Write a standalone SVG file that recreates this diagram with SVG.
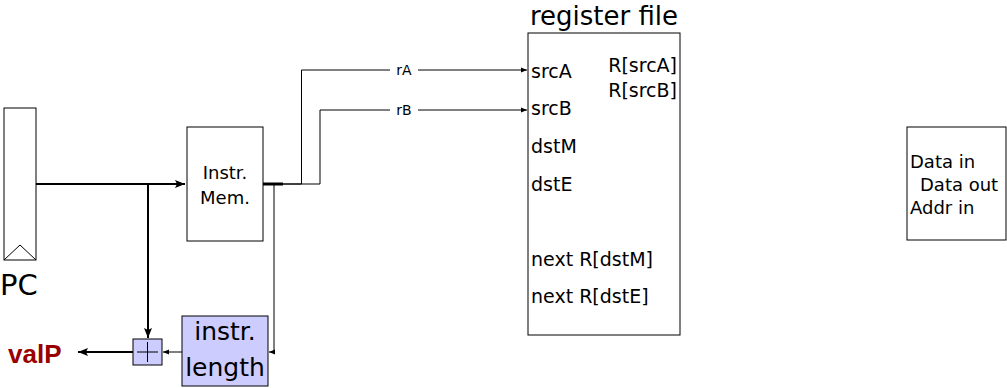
<svg xmlns="http://www.w3.org/2000/svg" width="1007" height="388" viewBox="0 0 1007 388">
<style>
text{font-family:"DejaVu Sans",sans-serif;fill:#000}
.box{fill:#fff;stroke:#000;stroke-width:1}
.blue{fill:#ccccff;stroke:#000;stroke-width:1}
.w1{fill:none;stroke:#000;stroke-width:1}
.w2{fill:none;stroke:#000;stroke-width:2}
.t18{font-size:18px}
.t19{font-size:19px}
.lbl{font-size:14px}
</style>
<defs>
<marker id="a1" viewBox="0 0 10 10" refX="10" refY="5" markerWidth="6" markerHeight="6" markerUnits="userSpaceOnUse" orient="auto"><path d="M0,1 L10,5 L0,9 Z" fill="#000"/></marker>
<marker id="a2" viewBox="0 0 10 10" refX="10" refY="5" markerWidth="12" markerHeight="10" markerUnits="userSpaceOnUse" orient="auto"><path d="M0,1 L10,5 L0,9 L2,5 Z" fill="#000"/></marker>
</defs>
<g id="connectors">
<path class="w2" d="M36,184 H185" marker-end="url(#a2)"/>
<path class="w2" d="M148,184 V338" marker-end="url(#a2)"/>
<path class="w2" d="M133,352 H78" marker-end="url(#a2)"/>
<path class="w1" d="M182,352 H163" marker-end="url(#a1)"/>
<path d="M263,184 H283" stroke="#000" stroke-width="3" fill="none"/>
<path class="w1" d="M283,184 H320 V110 H527" marker-end="url(#a1)"/>
<path class="w1" d="M283,184 H301.5 V70 H527" marker-end="url(#a1)"/>
<path class="w1" d="M274,184 V352 H269" marker-end="url(#a1)"/>
<rect x="390" y="62" width="28" height="15" fill="#fff"/>
<text class="lbl" x="404" y="75" text-anchor="middle">rA</text>
<rect x="390" y="102" width="28" height="15" fill="#fff"/>
<text class="lbl" x="404" y="115" text-anchor="middle">rB</text>
</g>
<g id="pc">
<rect class="box" x="4" y="108" width="32" height="152"/>
<path class="w1" d="M4,260 L20,245 L36,260"/>
<text x="0" y="295" font-size="29px">PC</text>
</g>
<g id="instr-mem">
<rect class="box" x="187" y="127" width="76" height="114"/>
<text class="t18" x="225" y="179" text-anchor="middle">Instr.</text>
<text class="t18" x="225" y="204" text-anchor="middle">Mem.</text>
</g>
<g id="instr-length">
<rect class="blue" x="182" y="316" width="86" height="70"/>
<text x="225" y="340" font-size="25px" text-anchor="middle">instr.</text>
<text x="225" y="376" font-size="25px" text-anchor="middle">length</text>
</g>
<g id="adder">
<rect class="blue" x="133" y="339" width="29" height="26"/>
<path class="w1" d="M137,352 H158 M147.5,342 V362"/>
</g>
<g id="valP">
<text x="8" y="363" font-size="26px" font-weight="bold" style="font-family:'Liberation Sans',sans-serif;fill:#990000">valP</text>
</g>
<g id="register-file">
<text x="604" y="25" font-size="26px" text-anchor="middle">register file</text>
<rect class="box" x="528" y="33" width="152" height="302"/>
<text class="t19" x="531" y="78">srcA</text>
<text class="t19" x="531" y="115">srcB</text>
<text class="t19" x="531" y="153">dstM</text>
<text class="t19" x="531" y="191">dstE</text>
<text class="t19" x="531" y="266">next R[dstM]</text>
<text class="t19" x="531" y="303">next R[dstE]</text>
<text class="t19" x="677" y="72" text-anchor="end">R[srcA]</text>
<text class="t19" x="677" y="97" text-anchor="end">R[srcB]</text>
</g>
<g id="data-memory">
<rect class="box" x="907" y="127" width="99" height="113"/>
<text class="t18" x="910" y="168">Data in</text>
<text class="t18" x="920" y="191">Data out</text>
<text class="t18" x="910" y="214">Addr in</text>
</g>
</svg>
